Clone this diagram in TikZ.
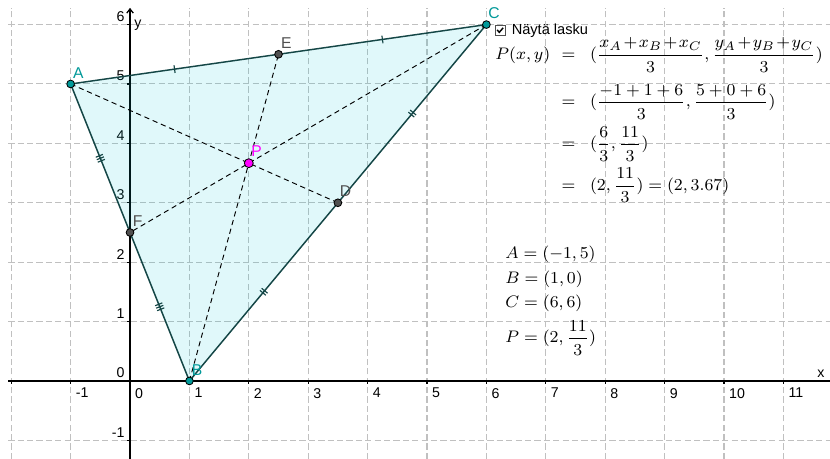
\documentclass[tikz,border=0pt]{standalone}
\usepackage{amsmath, amssymb}
\usepackage{fontspec}
\usepackage{xcolor}
\usepackage{tikz}
\usetikzlibrary{arrows.meta, positioning, calc, decorations.markings}
\newfontfamily\ggbfont{Liberation Sans}
\definecolor{ggbgrid}{RGB}{192, 192, 192}
\definecolor{ggbteal}{RGB}{0, 153, 153}
\definecolor{ggbedge}{RGB}{20, 70, 70}
\definecolor{ggbfill}{RGB}{0, 200, 215}
\definecolor{ggbgrey}{RGB}{80, 80, 80}
\definecolor{ggbpink}{RGB}{255, 0, 255}

\begin{document}
\begin{tikzpicture}[
    gridline/.style={ggbgrid, line width=0.5pt, dash pattern=on 3pt off 1.5pt},
    axis/.style={black, line width=0.6pt},
    edge/.style={ggbedge, line width=0.7pt},
    median/.style={black, line width=0.45pt, dash pattern=on 2.5pt off 1.8pt},
    tickone/.style={postaction={decorate, decoration={markings, mark=at position 0.5 with {
        \draw[ggbedge, line width=0.55pt] (0,-0.065) -- (0,0.065);}}}},
    ticktwo/.style={postaction={decorate, decoration={markings, mark=at position 0.5 with {
        \draw[ggbedge, line width=0.55pt] (-0.023,-0.065) -- (-0.023,0.065) (0.023,-0.065) -- (0.023,0.065);}}}},
    tickthree/.style={postaction={decorate, decoration={markings, mark=at position 0.5 with {
        \draw[ggbedge, line width=0.55pt] (-0.045,-0.065) -- (-0.045,0.065) (0,-0.065) -- (0,0.065) (0.045,-0.065) -- (0.045,0.065);}}}},
    pt/.style={circle, draw=black, line width=0.4pt, inner sep=0pt, minimum size=0.13cm},
    ptlabel/.style={font=\fontsize{7.5}{9}\ggbfont, inner sep=0pt},
    numlabel/.style={font=\fontsize{6.8}{8}\ggbfont, inner sep=0pt},
    mathbox/.style={font=\fontsize{8.5}{10.2}\selectfont, inner sep=0pt},
]
    \useasboundingbox (-2.189, -1.313) rectangle (11.785, 6.414);
    \fill[white] (-2.189, -1.313) rectangle (11.785, 6.414);

    % 网格
    \foreach \x in {-2,...,11} {
        \draw[gridline] (\x, -1.313) -- (\x, 6.28);
    }
    \foreach \y in {-1,...,6} {
        \draw[gridline] (-2.05, \y) -- (11.785, \y);
    }

    % 坐标轴
    \draw[axis] (-2.05, 0) -- (11.785, 0);
    \draw[axis, -{Straight Barb[length=0.7mm, width=1.1mm]}] (0, -1.313) -- (0, 6.28);
    \foreach \x in {-2,...,11} {
        \draw[axis] (\x, 0) -- (\x, -0.05);
    }
    \foreach \y in {-1,...,6} {
        \draw[axis] (0, \y) -- (-0.05, \y);
    }
    \foreach \x in {-1,...,11} {
        \node[numlabel, anchor=north west] (xl\x) at (\x+0.08, -0.115) {\x};
    }
    \foreach \y in {-1,...,6} {
        \node[numlabel, anchor=south east] (yl\y) at (-0.085, \y+0.045) {\y};
    }
    \node[numlabel] (xname) at (11.63, 0.118) {x};
    \node[numlabel] (yname) at (0.135, 5.99) {y};

    % 三角形与中点
    \coordinate (A) at (-1, 5);
    \coordinate (B) at (1, 0);
    \coordinate (C) at (6, 6);
    \coordinate (D) at (3.5, 3);
    \coordinate (E) at (2.5, 5.5);
    \coordinate (F) at (0, 2.5);
    \coordinate (P) at (2, 11/3);
    \fill[ggbfill, fill opacity=0.12] (A) -- (B) -- (C) -- cycle;
    \draw[edge, tickone] (A) -- (E);
    \draw[edge, tickone] (E) -- (C);
    \draw[edge, ticktwo] (C) -- (D);
    \draw[edge, ticktwo] (D) -- (B);
    \draw[edge, tickthree] (B) -- (F);
    \draw[edge, tickthree] (F) -- (A);

    % 中线
    \draw[median] (A) -- (D);
    \draw[median] (B) -- (E);
    \draw[median] (C) -- (F);

    % 点
    \foreach \n/\c in {A/ggbteal, B/ggbteal, C/ggbteal, D/ggbgrey, E/ggbgrey, F/ggbgrey} {
        \node[pt, fill=\c] (p\n) at (\n) {};
        \node[ptlabel, text=\c] (l\n) at ($(\n)+(0.13, 0.19)$) {\n};
    }
    \node[pt, fill=ggbpink, minimum size=0.15cm] (pP) at (P) {};
    \node[ptlabel, text=ggbpink] (lP) at ($(P)+(0.13, 0.2)$) {P};

    % 复选框
    \node[draw=ggbgrey, fill=white, line width=0.4pt, minimum size=0.17cm, inner sep=0pt] (box) at (6.237, 5.905) {};
    \draw[black, line width=0.7pt] ($(box.center)+(-0.055, 0.005)$) -- ++(0.035, -0.04) -- ++(0.065, 0.075);
    \node[font=\fontsize{7}{8}\ggbfont, inner sep=0pt, anchor=base west] (show) at (6.42, 5.83) {Näytä lasku};

    % 公式
    \node[mathbox, anchor=base west] (calcP) at (6.145, 5.41) {$\begin{array}[t]{@{}r@{\hspace{5.5pt}}c@{\hspace{7pt}}l@{}}
        P(x,y) & = & \medmuskip=1.5mu (\dfrac{x_A+x_B+x_C}{3},\dfrac{y_A+y_B+y_C}{3}) \\[8.8pt]
        & = & (\dfrac{-1+1+6}{3},\dfrac{5+0+6}{3}) \\[6.4pt]
        & = & (\dfrac{6}{3},\dfrac{11}{3}) \\[6pt]
        & = & (2,\dfrac{11}{3}) = (2,3.67)
    \end{array}$};
    \node[mathbox, anchor=base west] (coords) at (6.313, 2.07) {$\begin{array}[t]{@{}l@{}}
        A=(-1,5) \\[2pt]
        B=(1,0) \\[1.5pt]
        C=(6,6) \\[3pt]
        P=(2,\dfrac{11}{3})
    \end{array}$};
\end{tikzpicture}
\end{document}
